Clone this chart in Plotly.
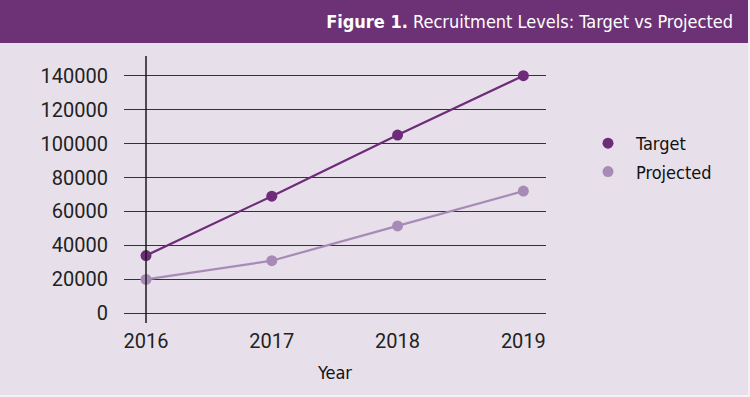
import plotly.graph_objects as go

years = [2016, 2017, 2018, 2019]
target = [34000, 69000, 105000, 140000]
projected = [20000, 31000, 51500, 72000]
y_ticks = [0, 20000, 40000, 60000, 80000, 100000, 120000, 140000]
y_tick_labels = [str(v) for v in y_ticks]

C_TARGET = "#6e2b79"
C_PROJ = "#a88ab7"
BG = "#e7e0ea"
BAR = "#6d3276"
NARROW = "DejaVu Sans Condensed, Roboto, sans-serif"
TICKF = "Roboto, Liberation Sans, sans-serif"

fig = go.Figure()
for name, vals, col in [("Target", target, C_TARGET), ("Projected", projected, C_PROJ)]:
    fig.add_trace(go.Scatter(x=years, y=vals, mode="lines", line=dict(color=col, width=2.2),
                             showlegend=False, hoverinfo="skip"))
for name, vals, col in [("Target", target, C_TARGET), ("Projected", projected, C_PROJ)]:
    fig.add_trace(go.Scatter(x=years, y=vals, mode="markers", name=name, legendgroup=name,
                             marker=dict(color=col, size=11)))

W, H = 750, 397
L, R, T, B = 124, 204, 56, 74
pw, ph = W - L - R, H - T - B

def px(xp):
    return (xp - L) / pw

def py(yp):
    return (H - B - yp) / ph

fig.add_shape(type="rect", xref="paper", yref="paper", x0=px(0), x1=px(748), y0=py(395), y1=py(43),
              fillcolor=BG, line_width=0, layer="below")
fig.add_shape(type="rect", xref="paper", yref="paper", x0=px(0), x1=px(748), y0=py(43), y1=py(0),
              fillcolor=BAR, line_width=0, layer="below")
fig.add_shape(type="line", xref="x", yref="paper", x0=years[0], x1=years[0], y0=0, y1=1,
              line=dict(color="#1a1a1a", width=1.5))

fig.update_layout(
    width=W, height=H,
    margin=dict(l=L, r=R, t=T, b=B),
    paper_bgcolor="#f4f0f5",
    plot_bgcolor="rgba(0,0,0,0)",
    title=dict(text="<b>Figure 1.</b> Recruitment Levels: Target vs Projected",
               x=733 / W, xanchor="right", xref="container",
               y=1 - 22 / H, yanchor="middle", yref="container",
               font=dict(family=NARROW, size=18, color="white")),
    xaxis=dict(range=[2015.825, 2019.18], tickvals=years, showgrid=False, zeroline=False,
               showline=False, ticks="", tickfont=dict(family=TICKF, size=20, color="#222"),
               title=dict(text="Year", font=dict(family=NARROW, size=18, color="#111"), standoff=14),
               ticklabelstandoff=4),
    yaxis=dict(range=[-5700, 151600], tickvals=y_ticks, ticktext=y_tick_labels,
               showgrid=True, gridcolor="#333333",
               gridwidth=1, zeroline=False, showline=False, ticks="",
               tickfont=dict(family=TICKF, size=20, color="#222"), ticklabelstandoff=15),
    legend=dict(x=px(580), xanchor="left", y=py(125), yanchor="top",
                font=dict(family=NARROW, size=18, color="#111"), itemwidth=46,
                tracegroupgap=2, bgcolor="rgba(0,0,0,0)"),
    font=dict(family=TICKF),
)

fig.write_html("out.html", config={"displayModeBar": False},
               post_script="document.body.style.margin='0';document.body.style.overflow='hidden';")
